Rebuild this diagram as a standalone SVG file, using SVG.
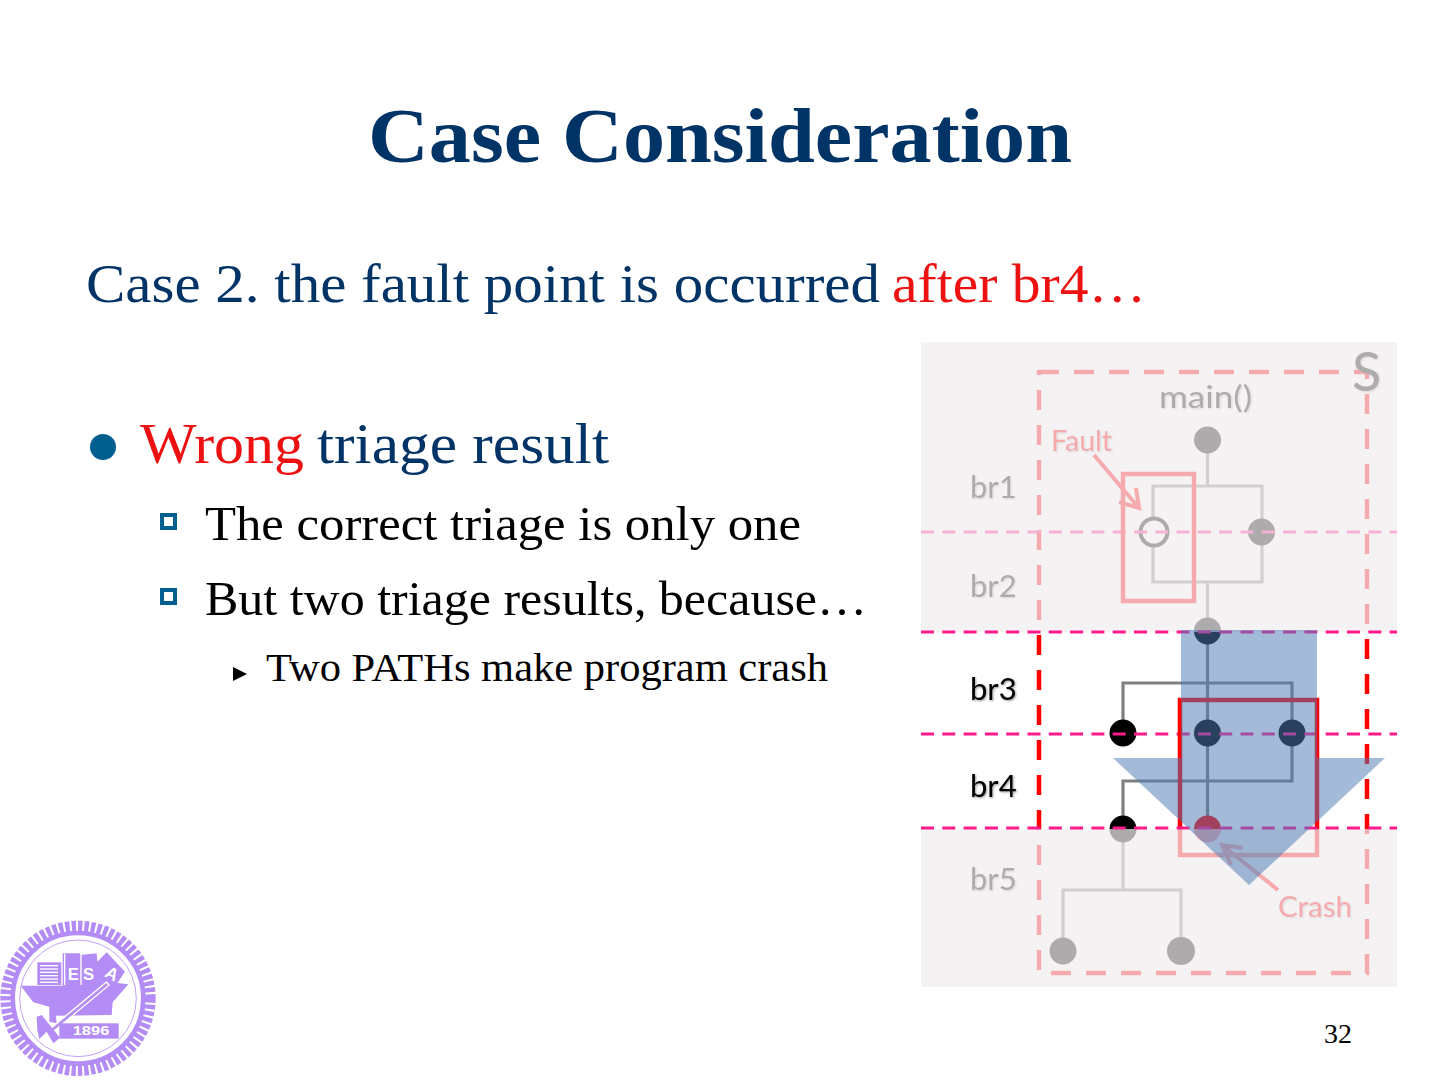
<svg xmlns="http://www.w3.org/2000/svg" width="1440" height="1080" viewBox="0 0 1440 1080">
<style>
text{font-family:"Liberation Serif","DejaVu Serif",serif;white-space:pre}
.navy{fill:#003366}.red{fill:#ee1111}.blk{fill:#000}
.lab{font-family:Lato,"Open Sans","Liberation Sans",sans-serif;font-weight:400;font-size:31px;fill:#000;filter:url(#sh)}
.edge{fill:none;stroke:#808080;stroke-width:3.2}
.box{fill:none;stroke:#ff0000;stroke-width:4.5;stroke-dasharray:20 15}
.cut{fill:none;stroke:#ff1a8c;stroke-width:3;stroke-dasharray:13 8.3}
.shade{fill:#f1edf0;opacity:.72}
.sq{fill:#fff;stroke:#005f8f;stroke-width:4}
.lg{fill:#b48cf5}
.lt{fill:#fff;font-family:"Liberation Sans",sans-serif;font-weight:700}
</style>
<defs>
<filter id="sh" x="-20%" y="-20%" width="140%" height="140%"><feDropShadow dx="1" dy="1" stdDeviation="1" flood-opacity=".4"/></filter>
</defs>
<rect width="1440" height="1080" fill="#fff"/>

<g id="title"><text x="368" y="162" font-size="78" font-weight="700" class="navy" textLength="704" lengthAdjust="spacingAndGlyphs">Case Consideration</text></g>

<g id="subtitle">
<text x="86" y="302" font-size="54" class="navy" textLength="794" lengthAdjust="spacingAndGlyphs">Case 2. the fault point is occurred</text>
<text x="892" y="302" font-size="54" class="red" textLength="254" lengthAdjust="spacingAndGlyphs">after br4…</text>
</g>

<g id="bullets">
<circle cx="103" cy="447" r="13" fill="#005f8f"/>
<text x="140" y="463" font-size="58" class="red" textLength="164" lengthAdjust="spacingAndGlyphs">Wrong</text>
<text x="317" y="463" font-size="58" class="navy" textLength="292" lengthAdjust="spacingAndGlyphs">triage result</text>
<rect x="162" y="515" width="13" height="13" class="sq"/>
<text x="205" y="540" font-size="48" class="blk" textLength="596" lengthAdjust="spacingAndGlyphs">The correct triage is only one</text>
<rect x="162" y="590" width="13" height="13" class="sq"/>
<text x="205" y="615" font-size="48" class="blk" textLength="662" lengthAdjust="spacingAndGlyphs">But two triage results, because…</text>
<polygon points="233,667 247,674 233,681" fill="#000"/>
<text x="266" y="681" font-size="40" class="blk" textLength="562" lengthAdjust="spacingAndGlyphs">Two PATHs make program crash</text>
</g>

<g id="figure">
<g id="guides">
<rect x="1039" y="372" width="328" height="601" class="box"/>
</g>
<g id="connectors">
<path class="edge" d="M1207.5 440V486M1153 532V486H1262V582H1153V532M1207.5 582V829"/>
<path class="edge" d="M1123 733V683H1292V781H1123V829M1123 829V890M1063 951V890H1181V951"/>
</g>
<g id="node-main"><circle cx="1207.5" cy="440" r="13.5"/></g>
<g id="node-br1-left"><circle cx="1154" cy="532" r="13.5" fill="#fff" stroke="#000" stroke-width="4"/></g>
<g id="node-br1-right"><circle cx="1261.5" cy="532" r="13.5"/></g>
<g id="node-br2"><circle cx="1207.5" cy="631" r="13.5"/></g>
<g id="node-br3-left"><circle cx="1123" cy="733" r="13.5"/></g>
<g id="node-br3-mid"><circle cx="1207.5" cy="733" r="13.5"/></g>
<g id="node-br3-right"><circle cx="1292" cy="733" r="13.5"/></g>
<g id="node-br4-left"><circle cx="1123" cy="829" r="13.5"/></g>
<g id="node-crash"><circle cx="1207.5" cy="829" r="13.5" fill="#f00"/></g>
<g id="node-br5-left"><circle cx="1063" cy="951" r="13.5"/></g>
<g id="node-br5-right"><circle cx="1181" cy="951" r="14"/></g>
<line x1="921" y1="532" x2="1397" y2="532" class="cut"/>
<line x1="921" y1="734" x2="1397" y2="734" class="cut"/>
<g id="labels">
<text class="lab" x="970" y="498">br1</text>
<text class="lab" x="970" y="597">br2</text>
<text class="lab" x="970" y="700">br3</text>
<text class="lab" x="970" y="797">br4</text>
<text class="lab" x="970" y="890">br5</text>
<text class="lab" x="1159" y="408" textLength="93" lengthAdjust="spacingAndGlyphs">main()</text>
<text class="lab" x="1352" y="391" style="font-size:54px">S</text>
</g>
<g id="fault">
<rect x="1123" y="474" width="71" height="127" fill="none" stroke="#f00" stroke-width="4.5"/>
<path d="M1094 455L1139 508M1136 488L1139 508L1119 502" fill="none" stroke="#f00" stroke-width="4"/>
<text class="lab" x="1051" y="451" textLength="61" lengthAdjust="spacingAndGlyphs" style="fill:#f00;font-size:29px">Fault</text>
</g>
<g id="crash">
<rect x="1180" y="700" width="137" height="155" fill="none" stroke="#f00" stroke-width="4.5"/>
<path d="M1278 890L1222 845M1243 848L1222 845L1231 865" fill="none" stroke="#f00" stroke-width="4"/>
<text class="lab" x="1278" y="917" textLength="74" lengthAdjust="spacingAndGlyphs" style="fill:#f00;font-size:29px">Crash</text>
</g>
<rect x="921" y="342" width="476" height="290" class="shade"/>
<rect x="921" y="829" width="476" height="158" class="shade"/>
<line x1="921" y1="632" x2="1397" y2="632" class="cut"/>
<line x1="921" y1="828" x2="1397" y2="828" class="cut"/>
<polygon id="arrow" points="1181,630 1317,630 1317,758 1385,758 1249,885 1113,758 1181,758" fill="#4f7ab5" opacity=".52"/>
</g>

<g id="logo" transform="translate(0 915) scale(.3333)">
<circle cx="234" cy="250" r="214" fill="none" stroke="#b48cf5" stroke-width="38" stroke-dasharray="13 6"/>
<circle cx="234" cy="250" r="196" fill="none" stroke="#b48cf5" stroke-width="14"/>
<circle cx="234" cy="250" r="175" fill="none" stroke="#b48cf5" stroke-width="2.5"/>
<polygon class="lg" points="62,212 188,212 188,115 240,115 240,120 290,115 292,140 320,112 375,170 352,204 385,208 338,262 335,300 168,302 170,325 148,320 148,275 100,262"/>
<rect x="112" y="142" width="72" height="68" class="lg"/>
<g fill="#fff"><rect x="120" y="150" width="54" height="4"/><rect x="120" y="160" width="54" height="4"/><rect x="120" y="170" width="54" height="4"/><rect x="120" y="180" width="54" height="4"/><rect x="120" y="190" width="54" height="4"/><rect x="120" y="200" width="54" height="4"/>
<rect x="192" y="115" width="4" height="95"/><rect x="241" y="115" width="4" height="95"/></g>
<text x="203" y="196" font-size="50" class="lt">E</text>
<text x="249" y="196" font-size="50" class="lt">S</text>
<text x="318" y="193" font-size="52" class="lt" transform="rotate(28 335 175)">A</text>
<path d="M325 204L150 350" stroke="#fff" stroke-width="16" fill="none"/>
<path d="M322 207L150 350" stroke="#b48cf5" stroke-width="8" fill="none"/>
<polygon class="lg" points="110,305 125,300 180,368 160,385 140,350 118,372 112,345"/>
<rect x="178" y="325" width="178" height="46" class="lg"/>
<text x="218" y="361" font-size="40" class="lt" textLength="110" lengthAdjust="spacingAndGlyphs">1896</text>
</g>

<g id="page"><text x="1324" y="1043" font-size="28" class="blk" textLength="28" lengthAdjust="spacingAndGlyphs">32</text></g>
</svg>
